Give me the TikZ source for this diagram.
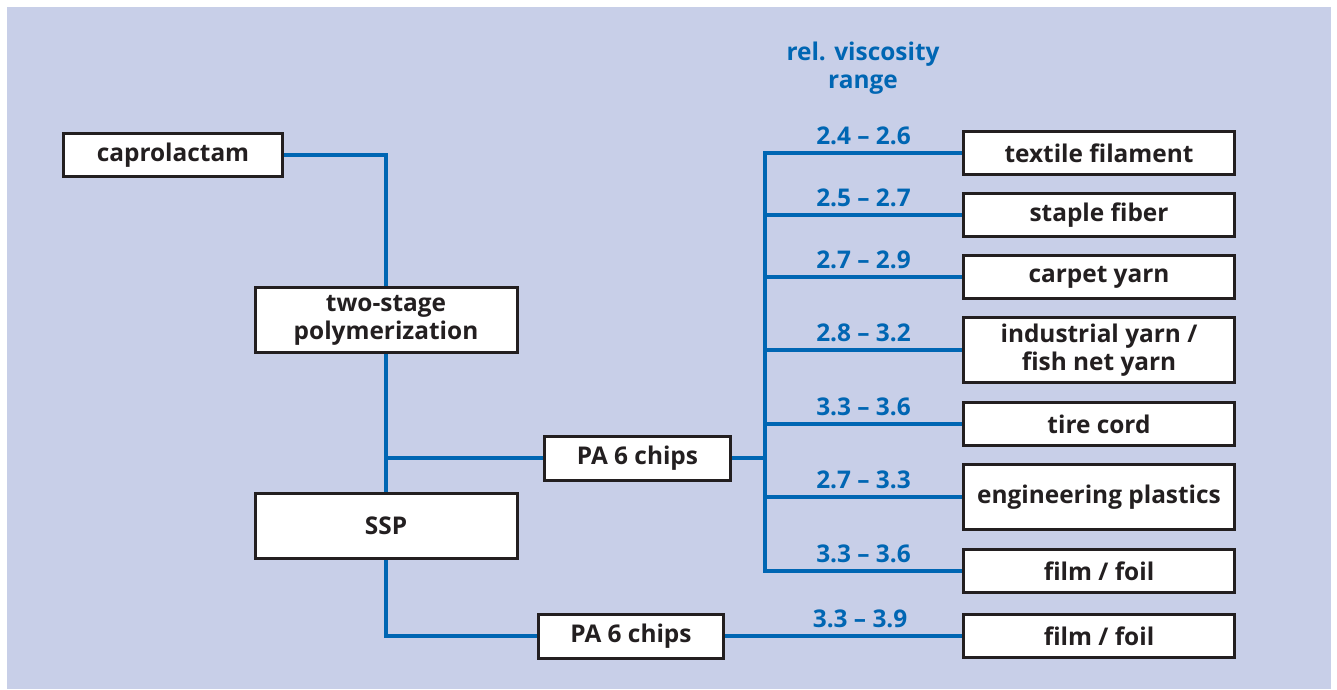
\documentclass[tikz,border=0pt]{standalone}
\usepackage{fontspec}
\setmainfont{Open Sans}
\definecolor{bgblue}{HTML}{C8CFE8}
\definecolor{lineblue}{HTML}{0066B3}
\definecolor{txtdark}{HTML}{231F20}

\begin{document}
\begin{tikzpicture}[x=0.75pt,y=0.75pt,yscale=-1,xscale=1,
    box/.style={draw=txtdark,line width=2.25pt,fill=white,text=txtdark,inner sep=0pt,
      align=center,font=\bfseries\fontsize{18.3}{21}\selectfont},
    link/.style={draw=lineblue,line width=3pt},
    viscrange/.style={text=lineblue,inner sep=0pt,font=\bfseries\fontsize{18.3}{21}\selectfont}]
                \useasboundingbox (0,0) rectangle (1337,689);
                \fill [bgblue] (7,7) rectangle (1331,689);
                % left column
                \node [box,minimum width=164.25pt,minimum height=32.25pt] (capro) at (173,155) {caprolactam};
                \node [box,minimum width=196.5pt,minimum height=48.75pt] (twostage) at (386,320) {two-stage\\polymerization};
                \node [box,minimum width=196.5pt,minimum height=48.75pt] (ssp) at (386,526) {SSP};
                \node [box,minimum width=139.5pt,minimum height=33pt] (chipsA) at (637.5,458) {PA 6 chips};
                \node [box,minimum width=138.75pt,minimum height=33pt] (chipsB) at (631,636) {PA 6 chips};
                % right column
                \node [box,minimum width=203.25pt,minimum height=32pt] (textile) at (1099,153) {textile filament};
                \node [box,minimum width=203.25pt,minimum height=32.25pt] (staple) at (1099,215) {staple fiber};
                \node [box,minimum width=203.25pt,minimum height=32.25pt] (carpet) at (1099,277) {carpet yarn};
                \node [box,minimum width=203.25pt,minimum height=48.75pt] (industrial) at (1099,350) {industrial yarn /\\fish net yarn};
                \node [box,minimum width=203.25pt,minimum height=32pt] (tire) at (1099,424) {tire cord};
                \node [box,minimum width=203.25pt,minimum height=48.75pt] (plastics) at (1099,497) {engineering plastics};
                \node [box,minimum width=203.25pt,minimum height=32.25pt] (filmA) at (1099,571) {film / foil};
                \node [box,minimum width=203.25pt,minimum height=32.25pt] (filmB) at (1099,636) {film / foil};
                \node [viscrange,align=center] (head) at (863,68) {rel. viscosity\\range};
                \coordinate (split) at (386,458);
                \coordinate (trunk) at (765,458);
                % connectors
                \draw [link] (capro.east) -| (twostage.north);
                \draw [link] (twostage.south) -- (ssp.north);
                \draw [link] (split) -- (chipsA.west);
                \draw [link] (ssp.south) |- (chipsB.west);
                \draw [link] (chipsA.east) -- (trunk);
                \draw [link] (textile.west) -| (trunk |- filmA.west) -- (filmA.west);
                \foreach \b in {staple,carpet,industrial,tire,plastics}
                    \draw [link] (trunk |- \b.west) -- (\b.west);
                \draw [link] (chipsB.east) -- (filmB.west);
                % viscosity ranges
                \foreach \b/\r in {textile/2.4 -- 2.6,staple/2.5 -- 2.7,carpet/2.7 -- 2.9,industrial/2.8 -- 3.2,
                    tire/3.3 -- 3.6,plastics/2.7 -- 3.3,filmA/3.3 -- 3.6}
                    \path (trunk |- \b.west) -- (\b.west) node [viscrange,midway,above=6pt] {\r};
                \path (chipsB.east) -- (filmB.west) node [viscrange,pos=0.57,above=6pt] (rangeB) {3.3 -- 3.9};
            \end{tikzpicture}
\end{document}
